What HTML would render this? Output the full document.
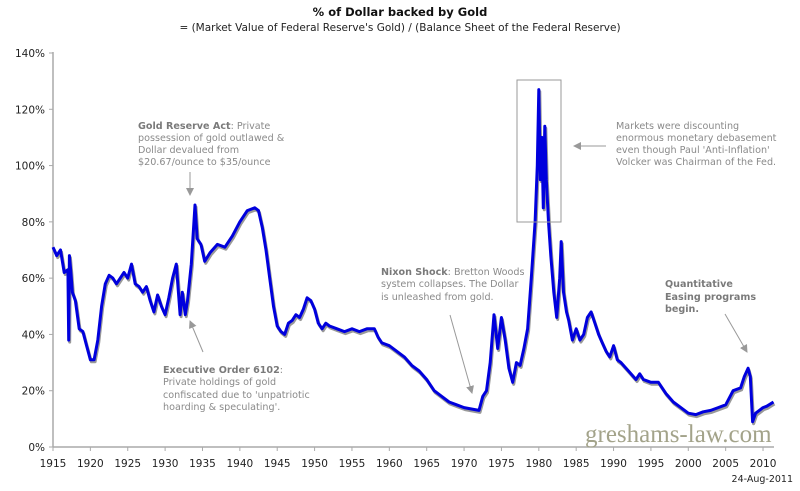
<!DOCTYPE html>
<html><head><meta charset="utf-8"><style>
body{margin:0;background:#fff;}
svg{display:block;font-family:"DejaVu Sans","Liberation Sans",sans-serif;}
.ann{font-size:9.6px;fill:#8a8a8a;}
.ann tspan.b{font-weight:bold;fill:#7a7a7a;}
.tick{font-size:10.5px;fill:#222;}
</style></head><body>
<svg id="chart" width="800" height="491">
<text x="400" y="16" text-anchor="middle" font-size="11.5" font-weight="bold" fill="#111">% of Dollar backed by Gold</text>
<text x="400" y="31" text-anchor="middle" font-size="10.5" fill="#222">= (Market Value of Federal Reserve's Gold) / (Balance Sheet of the Federal Reserve)</text>
<g id="axes"></g>
<g id="series"></g>
<rect x="517" y="80" width="44" height="142" fill="none" stroke="#999" stroke-width="1"/>
<text x="585" y="442" font-family="'Liberation Serif',serif" font-size="25" fill="#a3a38a">greshams-law.com</text>
<text x="793" y="482" text-anchor="end" font-size="9.5" fill="#222">24-Aug-2011</text>
<g>
<text class="ann" x="138" y="129"><tspan class="b">Gold Reserve Act</tspan>: Private</text>
<text class="ann" x="138" y="141">possession of gold outlawed &amp;</text>
<text class="ann" x="138" y="153">Dollar devalued from</text>
<text class="ann" x="138" y="165">$20.67/ounce to $35/ounce</text>
</g>
<g>
<text class="ann" x="616" y="129">Markets were discounting</text>
<text class="ann" x="616" y="141">enormous monetary debasement</text>
<text class="ann" x="616" y="153">even though Paul 'Anti-Inflation'</text>
<text class="ann" x="616" y="165">Volcker was Chairman of the Fed.</text>
</g>
<g>
<text class="ann" x="381" y="275"><tspan class="b">Nixon Shock</tspan>: Bretton Woods</text>
<text class="ann" x="381" y="287">system collapses. The Dollar</text>
<text class="ann" x="381" y="300">is unleashed from gold.</text>
</g>
<g>
<text class="ann" x="163" y="373"><tspan class="b">Executive Order 6102</tspan>:</text>
<text class="ann" x="163" y="385">Private holdings of gold</text>
<text class="ann" x="163" y="398">confiscated due to 'unpatriotic</text>
<text class="ann" x="163" y="410">hoarding &amp; speculating'.</text>
</g>
<g>
<text class="ann" x="665" y="287"><tspan class="b">Quantitative</tspan></text>
<text class="ann" x="665" y="300"><tspan class="b">Easing programs</tspan></text>
<text class="ann" x="665" y="312"><tspan class="b">begin.</tspan></text>
</g>
<defs><marker id="ah" markerWidth="8" markerHeight="8" refX="7" refY="4" orient="auto" markerUnits="userSpaceOnUse"><path d="M0,0 L8,4 L0,8 z" fill="#999"/></marker></defs>
<line x1="190" y1="172" x2="190" y2="195" stroke="#999" marker-end="url(#ah)"/>
<line x1="606" y1="146" x2="574" y2="146" stroke="#999" marker-end="url(#ah)"/>
<line x1="450" y1="315" x2="472" y2="393" stroke="#999" marker-end="url(#ah)"/>
<line x1="203" y1="352" x2="190" y2="321" stroke="#999" marker-end="url(#ah)"/>
<line x1="725" y1="314" x2="747" y2="352" stroke="#999" marker-end="url(#ah)"/>
</svg>
<script>
const years=[1915,1915.5,1916,1916.5,1917,1917.1,1917.2,1917.4,1917.6,1918,1918.5,1919,1919.5,1920,1920.5,1921,1921.5,1922,1922.5,1923,1923.5,1924,1924.5,1925,1925.5,1926,1926.5,1927,1927.5,1928,1928.5,1929,1929.5,1930,1930.5,1931,1931.5,1932,1932.3,1932.7,1933,1933.5,1934,1934.3,1934.8,1935.3,1936,1937,1938,1939,1940,1941,1942,1942.5,1943,1943.5,1944,1944.5,1945,1945.5,1946,1946.5,1947,1947.5,1948,1948.5,1949,1949.5,1950,1950.5,1951,1951.5,1952,1953,1954,1955,1956,1957,1958,1958.5,1959,1960,1961,1962,1963,1964,1965,1966,1967,1968,1969,1970,1971,1972,1972.5,1973,1973.5,1974,1974.5,1975,1975.5,1976,1976.5,1977,1977.5,1978,1978.5,1979,1979.5,1979.8,1980,1980.2,1980.4,1980.6,1980.8,1981,1981.3,1981.6,1982,1982.4,1982.8,1983,1983.3,1983.7,1984,1984.5,1985,1985.5,1986,1986.5,1987,1987.5,1988,1988.5,1989,1989.5,1990,1990.5,1991,1992,1993,1993.5,1994,1995,1996,1997,1998,1999,2000,2001,2002,2003,2004,2005,2006,2007,2007.5,2008,2008.3,2008.6,2009,2009.5,2010,2010.5,2011.4];
const values=[71,68,70,62,63,38,68,62,55,52,42,41,36,31,31,38,50,58,61,60,58,60,62,60,65,58,57,55,57,52,48,54,50,47,53,60,65,47,55,47,52,65,86,74,72,66,69,72,71,75,80,84,85,84,78,70,60,50,43,41,40,44,45,47,46,49,53,52,49,44,42,44,43,42,41,42,41,42,42,39,37,36,34,32,29,27,24,20,18,16,15,14,13.5,13,18,20,30,47,35,46,38,28,23,30,29,35,42,60,80,100,127,95,110,85,114,95,80,68,55,46,60,73,55,48,45,38,42,38,40,46,48,44,40,37,34,32,36,31,30,27,24,26,24,23,23,19,16,14,12,11.5,12.5,13,14,15,20,21,25,28,25,9,12,13,14,14.5,16];
const yTicks=[0,20,40,60,80,100,120,140];
const xTicks=[1915,1920,1925,1930,1935,1940,1945,1950,1955,1960,1965,1970,1975,1980,1985,1990,1995,2000,2005,2010];
const NS='http://www.w3.org/2000/svg';
const X=v=>53+(v-1915)*7.474;
const Y=v=>447-v*(394/140);
const axes=document.getElementById('axes'),series=document.getElementById('series');
function mk(tag,attrs,parent){const e=document.createElementNS(NS,tag);for(const k in attrs)e.setAttribute(k,attrs[k]);parent.appendChild(e);return e;}
let e=mk('line',{x1:53,y1:447,x2:774,y2:447,stroke:'#aaa','stroke-width':1.5},axes);


e=mk('line',{x1:53,y1:52,x2:53,y2:447,stroke:'#aaa','stroke-width':1.5},axes);


yTicks.forEach(t=>{
  const l=mk('line',{x1:49,x2:53,y1:Y(t),y2:Y(t),stroke:'#aaa'},axes);
  
  
  const tx=mk('text',{x:45,y:Y(t)+4,'text-anchor':'end',class:'tick'},axes);
  tx.textContent=t+'%';
  
  
});
xTicks.forEach(t=>{
  const l=mk('line',{x1:X(t),x2:X(t),y1:447,y2:451,stroke:'#aaa'},axes);
  
  
  const tx=mk('text',{x:X(t),y:467,'text-anchor':'middle',class:'tick'},axes);
  tx.textContent=t;
  
  
});
const d=years.map((y,i)=>(i?'L':'M')+X(y).toFixed(1)+','+Y(values[i]).toFixed(1)).join(' ');
const sh=mk('path',{d:d,fill:'none',stroke:'#999','stroke-width':3,transform:'translate(1,2)','stroke-linejoin':'round'},series);


const ln=mk('path',{d:d,fill:'none',stroke:'#0000dd','stroke-width':3,'stroke-linejoin':'round'},series);


</script>
</body></html>
